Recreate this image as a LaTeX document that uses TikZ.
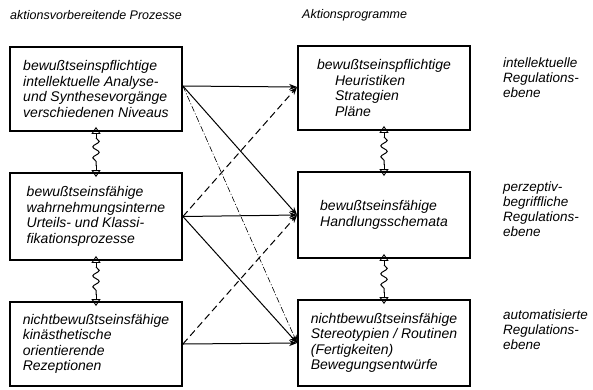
\documentclass[tikz,border=0pt]{standalone}
\usepackage{fontspec}
\setmainfont{Liberation Sans}
\usetikzlibrary{arrows.meta,decorations.pathmorphing,calc}

\begin{document}
\begin{tikzpicture}[x=1pt,y=-1pt,
  box/.style={draw, line width=1.8pt, minimum width=172pt, inner sep=0pt,
    align=left, font=\itshape\fontsize{14}{15.5}\selectfont},
  head/.style={anchor=west, inner sep=0pt, font=\itshape\fontsize{12.5}{14}\selectfont},
  level/.style={anchor=west, inner sep=0pt, align=left,
    font=\itshape\fontsize{13.5}{15}\selectfont},
  link/.style={line width=1pt, -{Stealth[length=8pt,width=6pt]}},
  dashlink/.style={link, dash pattern=on 7pt off 4pt},
  dotlink/.style={link, line width=0.6pt, dash pattern=on 6pt off 2pt on 1pt off 2pt},
  wave/.style={line width=1pt, decorate,
    decoration={snake, amplitude=3.2pt, segment length=11pt}},
  tiptri/.style={line width=0.9pt, -{Triangle[open,length=7pt,width=9pt]}}
]
\useasboundingbox (0,0) rectangle (593,389);

% column headings
\node[head] (hl) at (10,15) {aktionsvorbereitende Prozesse};
\node[head] (hr) at (302,15) {Aktionsprogramme};

% preparatory processes
\node[box, minimum height=84pt] (b1) at (96,89)
  {bewußtseinspflichtige\\intellektuelle Analyse-\\und Synthesevorgänge\\verschiedenen Niveaus};
\node[box, minimum height=87pt] (b2) at (96,216.5)
  {bewußtseinsfähige\\wahrnehmungsinterne\\Urteils- und Klassi-\\fikationsprozesse};
\node[box, minimum height=84pt] (b3) at (96,344)
  {nichtbewußtseinsfähige\\kinästhetische\\orientierende\\Rezeptionen};

% action programmes
\node[box, minimum height=84pt] (b4) at (384,88)
  {bewußtseinspflichtige\\\hspace*{18pt}Heuristiken\\\hspace*{18pt}Strategien\\\hspace*{18pt}Pläne};
\node[box, minimum height=86pt] (b5) at (384,215)
  {bewußtseinsfähige\\Handlungsschemata};
\node[box, minimum height=86pt] (b6) at (384,343)
  {nichtbewußtseinsfähige\\Stereotypien / Routinen\\(Fertigkeiten)\\Bewegungsentwürfe};

% regulation levels
\node[level] (l1) at (503,78) {intellektuelle\\Regulations-\\ebene};
\node[level] (l2) at (503,209) {perzeptiv-\\begriffliche\\Regulations-\\ebene};
\node[level] (l3) at (503,330) {automatisierte\\Regulations-\\ebene};

% wavy couplings between neighbouring levels
\foreach \u/\l in {b1/b2, b2/b3, b4/b5, b5/b6} {
  \draw[wave] ($(\u.south)+(0,6)$) -- ($(\l.north)+(0,-6)$);
  \draw[tiptri] ($(\u.south)+(0,7)$) -- ($(\u.south)+(0,-5)$);
  \draw[tiptri] ($(\l.north)+(0,-7)$) -- ($(\l.north)+(0,5)$);
}

% connections from processes to programmes
\coordinate (o1) at ([yshift=3pt]b1.east);
\coordinate (i4) at ([yshift=1pt]b4.west);
\draw[link] (o1) -- (i4);
\draw[link] (o1) -- (b5.west);
\draw[dotlink] (o1) -- (b6.west);
\draw[dashlink] (b2.east) -- (i4);
\draw[link] (b2.east) -- (b5.west);
\draw[link] (b2.east) -- (b6.west);
\draw[dashlink] (b3.east) -- (b5.west);
\draw[link] (b3.east) -- (b6.west);
\end{tikzpicture}
\end{document}
